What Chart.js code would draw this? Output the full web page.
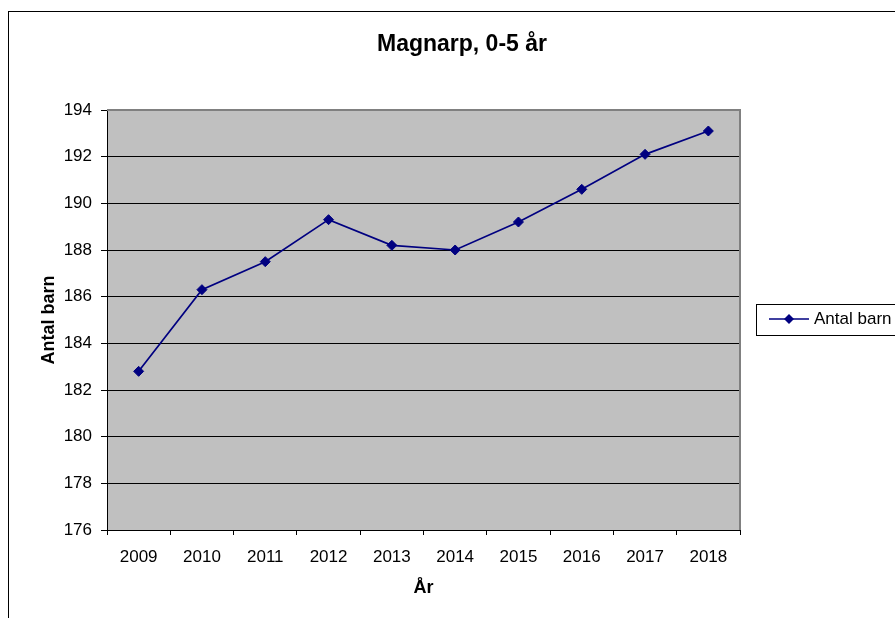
<!DOCTYPE html>
<html><head><meta charset="utf-8">
<script src="https://cdn.jsdelivr.net/npm/chart.js@4"></script>
<style>
html,body{margin:0;padding:0;background:#fff;overflow:hidden;width:895px;height:618px;}
#frame{position:absolute;left:8px;top:11px;width:906px;height:620px;border:1px solid #000;background:#fff;}
canvas{display:block;}
</style></head><body>
<div id="frame"><canvas id="c" width="906" height="620"></canvas></div>
<script>
const years = ['2009','2010','2011','2012','2013','2014','2015','2016','2017','2018'];
const antalBarn = [182.8, 186.3, 187.5, 189.3, 188.2, 188.0, 189.2, 190.6, 192.1, 193.1];
const yMin = 176, yMax = 194, yStep = 2;
const chartTitle = 'Magnarp, 0-5 år';
const seriesLabel = 'Antal barn';
const xTitle = 'År';
const yTitle = 'Antal barn';

const FONT = "'Liberation Sans', Arial, sans-serif";
const NAVY = '#000080';

const plotBg = {
  id: 'plotBg',
  beforeDraw(chart) {
    const {ctx, chartArea: a} = chart;
    ctx.save();
    ctx.fillStyle = '#c0c0c0';
    ctx.fillRect(a.left, a.top, a.right - a.left, a.bottom - a.top);
    ctx.restore();
  },
  beforeDatasetsDraw(chart) {
    const {ctx, chartArea: a} = chart;
    ctx.save();
    ctx.strokeStyle = '#808080';
    ctx.lineWidth = 2;
    ctx.beginPath();
    ctx.moveTo(a.left, a.top);
    ctx.lineTo(a.right, a.top);
    ctx.lineTo(a.right, a.bottom);
    ctx.stroke();
    ctx.restore();
  }
};

// Chart title centred over the whole chart frame (as in the original)
const frameTitle = {
  id: 'frameTitle',
  afterDraw(chart) {
    const {ctx} = chart;
    ctx.save();
    ctx.fillStyle = '#000';
    ctx.font = 'bold 23px ' + FONT;
    ctx.textAlign = 'center';
    ctx.textBaseline = 'middle';
    ctx.fillText(chartTitle, chart.width / 2, 33);
    ctx.restore();
  }
};

const boxLegend = {
  id: 'boxLegend',
  afterDraw(chart) {
    const {ctx, chartArea: a} = chart;
    const ds = chart.data.datasets[0];
    const x0 = a.right + 16;
    const cy = (a.top + a.bottom) / 2 - 1;
    const h = 31;
    const top = Math.round(cy - h / 2);
    ctx.save();
    ctx.strokeStyle = '#000';
    ctx.lineWidth = 1;
    ctx.strokeRect(x0 + 0.5, top + 0.5, 400, h);
    ctx.strokeStyle = ds.borderColor;
    ctx.lineWidth = ds.borderWidth;
    ctx.beginPath();
    ctx.moveTo(x0 + 13, cy);
    ctx.lineTo(x0 + 53, cy);
    ctx.stroke();
    const r = ds.pointRadius, mx = x0 + 33;
    ctx.fillStyle = ds.pointBackgroundColor;
    ctx.beginPath();
    ctx.moveTo(mx - r, cy); ctx.lineTo(mx, cy - r); ctx.lineTo(mx + r, cy); ctx.lineTo(mx, cy + r);
    ctx.closePath();
    ctx.fill();
    ctx.fillStyle = '#000';
    ctx.font = '17px ' + FONT;
    ctx.textBaseline = 'middle';
    ctx.textAlign = 'left';
    ctx.fillText(ds.label, x0 + 58, cy);
    ctx.restore();
  }
};

new Chart(document.getElementById('c'), {
  type: 'line',
  data: {
    labels: years,
    datasets: [{
      label: seriesLabel,
      data: antalBarn,
      borderColor: NAVY,
      backgroundColor: NAVY,
      borderWidth: 1.7,
      pointStyle: 'rectRot',
      pointRadius: 5,
      pointBackgroundColor: NAVY,
      pointBorderColor: NAVY,
      pointBorderWidth: 1,
      tension: 0,
      fill: false
    }]
  },
  options: {
    responsive: false,
    animation: false,
    devicePixelRatio: 1,
    layout: { padding: { left: 0, right: 175, top: 98, bottom: 0 } },
    plugins: {
      legend: { display: false },
      tooltip: { enabled: false },
      title: { display: false }
    },
    scales: {
      x: {
        offset: true,
        afterFit(s) { s.height = 102; },
        grid: { offset: true, drawOnChartArea: false, drawTicks: true, tickLength: 5, color: '#000', lineWidth: 1 },
        border: { display: true, color: '#000', width: 1 },
        ticks: { color: '#000', font: { family: FONT, size: 17 }, padding: 12, maxRotation: 0, autoSkip: false },
        title: { display: true, text: xTitle, color: '#000', font: { family: FONT, size: 18, weight: 'bold', lineHeight: 1.2 }, padding: { top: 4, bottom: 33 } }
      },
      y: {
        min: yMin, max: yMax,
        afterFit(s) { s.width = 98; },
        grid: { drawTicks: true, tickLength: 6, color: '#000', lineWidth: 1 },
        border: { display: true, color: '#000', width: 1 },
        ticks: { stepSize: yStep, color: '#000', font: { family: FONT, size: 17 }, padding: 9 },
        title: { display: true, text: yTitle, color: '#000', font: { family: FONT, size: 18, weight: 'bold', lineHeight: 1.2 }, padding: { top: 29.2, bottom: 4 } }
      }
    }
  },
  plugins: [plotBg, frameTitle, boxLegend]
});
</script>
</body></html>
